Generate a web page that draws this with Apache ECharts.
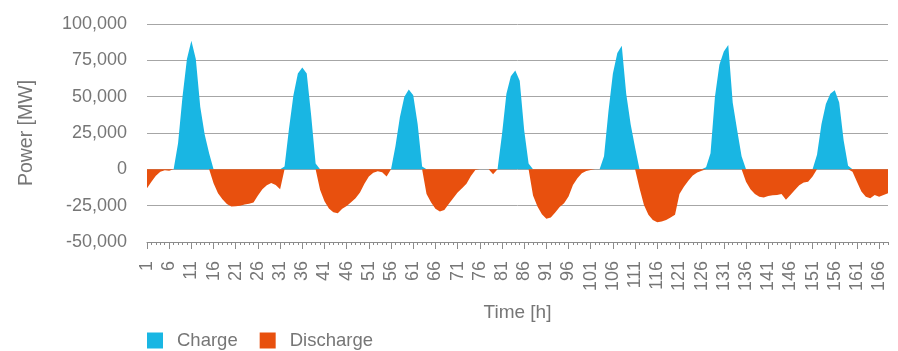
<!DOCTYPE html>
<html>
<head>
<meta charset="utf-8">
<script src="https://cdn.jsdelivr.net/npm/echarts@6/dist/echarts.min.js"></script>
<style>
html,body{margin:0;padding:0;background:#fff;}
#chart{width:898px;height:351px;}
</style>
</head>
<body>
<div id="chart"></div>
<script>
// Hours 1..168
const hours = [];
for (let i = 1; i <= 168; i++) hours.push(String(i));

// Charge (positive) values, MW, one per hour
const charge = [
  0,0,0,0,0,0,0,18000,50000,76000,            // 1-10
  88500,76000,43000,24000,11000,0,0,0,0,0,     // 11-20
  0,0,0,0,0,0,0,0,0,0,                         // 21-30
  0,2000,28000,51000,66000,70000,66000,37000,4000,0, // 31-40
  0,0,0,0,0,0,0,0,0,0,                         // 41-50
  0,0,0,0,0,0,16000,36000,50000,55000,         // 51-60
  51000,31000,2000,0,0,0,0,0,0,0,              // 61-70
  0,0,0,0,0,0,0,0,0,0,                         // 71-80
  24000,52000,64000,68000,61000,27000,4000,0,0,0, // 81-90
  0,0,0,0,0,0,0,0,0,0,                         // 91-100
  0,0,0,9000,40000,66000,80000,85000,52000,31000, // 101-110
  15000,0,0,0,0,0,0,0,0,0,                     // 111-120
  0,0,0,0,0,0,1500,11000,50000,72000,          // 121-130
  81000,85500,46000,27000,9000,0,0,0,0,0,      // 131-140
  0,0,0,0,0,0,0,0,0,0,                         // 141-150
  0,10000,31000,45000,52000,54500,46000,20000,2500,0, // 151-160
  0,0,0,0,0,0,0,0                              // 161-168
];

// Discharge (negative) values, MW, one per hour
const discharge = [
  -13000,-8500,-4500,-1600,-700,-1000,0,0,0,0,                 // 1-10
  0,0,0,0,0,-9500,-16500,-20500,-23800,-25600,                 // 11-20
  -25400,-25000,-24200,-23600,-22900,-18000,-13700,-11000,-9400,-10700, // 21-30
  -13700,0,0,0,0,0,0,0,0,-14000,                               // 31-40
  -22000,-27000,-29500,-30200,-27200,-25200,-22600,-19900,-16000,-10000, // 41-50
  -5000,-2300,-1400,-2000,-5000,0,0,0,0,0,                     // 51-60
  0,0,0,-17000,-22600,-27200,-29000,-27900,-23800,-19900,      // 61-70
  -16000,-13000,-10000,-4600,-500,0,0,0,-3400,0,               // 71-80
  0,0,0,0,0,0,0,-18000,-25600,-30900,                          // 81-90
  -34000,-33200,-29700,-26000,-23300,-18700,-10700,-6200,-2700,-1100, // 91-100
  -500,0,0,0,0,0,0,0,0,0,                                      // 101-110
  0,-13000,-24500,-31300,-34800,-36400,-35900,-34800,-33200,-31300, // 111-120
  -17000,-11900,-7800,-4300,-2200,-900,0,0,0,0,                // 121-130
  0,0,0,0,0,-8500,-13700,-17000,-18800,-19400,                 // 131-140
  -18300,-17800,-17600,-17000,-21000,-17600,-14200,-11000,-9100,-8500, // 141-150
  -5000,0,0,0,0,0,0,0,0,-1600,                                 // 151-160
  -8500,-15300,-18800,-19900,-17600,-18800,-17600,-16500       // 161-168
];

// Y axis ticks
const yMin = -50000, yMax = 100000, yStep = 25000;

const textColor = '#767676';
const fontFam = '"Liberation Sans", Arial, sans-serif';

const chart = echarts.init(document.getElementById('chart'), null, {renderer: 'canvas'});
chart.setOption({
  animation: false,
  backgroundColor: '#ffffff',
  textStyle: {fontFamily: fontFam, color: textColor},
  grid: {left: 147, right: 10, top: 24, bottom: 109, containLabel: false},
  legend: {
    left: 147, top: 331, padding: 0,
    itemWidth: 16, itemHeight: 16, itemGap: 22,
    icon: 'rect',
    textStyle: {fontSize: 18.5, color: textColor, fontFamily: fontFam, padding: [0,0,0,9]},
    data: ['Charge', 'Discharge']
  },
  xAxis: [
    {
      type: 'category',
      data: hours,
      boundaryGap: false,
      position: 'bottom',
      name: 'Time [h]',
      nameLocation: 'middle',
      nameGap: 61,
      nameTextStyle: {fontSize: 19, color: textColor, fontFamily: fontFam},
      axisLine: {show: true, onZero: false, lineStyle: {color: '#8c8c8c', width: 1}},
      axisTick: {show: true, interval: 4, length: 7, lineStyle: {color: '#8c8c8c', width: 1}},
      axisLabel: {interval: 4, rotate: 90, margin: 19, fontSize: 18, color: textColor, fontFamily: fontFam},
      splitLine: {show: false}
    },
    {
      type: 'category',
      data: hours,
      boundaryGap: false,
      position: 'bottom',
      axisLine: {show: false, onZero: false},
      axisTick: {show: true, interval: 0, length: 3, lineStyle: {color: '#8c8c8c', width: 1}},
      axisLabel: {show: false},
      splitLine: {show: false}
    }
  ],
  yAxis: {
    type: 'value',
    min: yMin, max: yMax, interval: yStep,
    name: 'Power [MW]',
    nameLocation: 'middle',
    nameGap: 110,
    nameTextStyle: {fontSize: 19.5, color: textColor, fontFamily: fontFam},
    axisLine: {show: false},
    axisTick: {show: false},
    axisLabel: {margin: 20, fontSize: 18, color: textColor, fontFamily: fontFam},
    splitLine: {show: true, lineStyle: {color: '#a6a6a6', width: 1}}
  },
  series: [
    {
      name: 'Charge',
      type: 'line',
      xAxisIndex: 0,
      data: charge,
      showSymbol: false,
      symbol: 'none',
      color: '#19b6e3',
      lineStyle: {width: 0},
      areaStyle: {color: '#19b6e3', opacity: 1}
    },
    {
      name: 'Discharge',
      type: 'line',
      xAxisIndex: 0,
      data: discharge,
      showSymbol: false,
      symbol: 'none',
      color: '#e8500e',
      lineStyle: {width: 0},
      areaStyle: {color: '#e8500e', opacity: 1}
    }
  ]
});
</script>
</body>
</html>
